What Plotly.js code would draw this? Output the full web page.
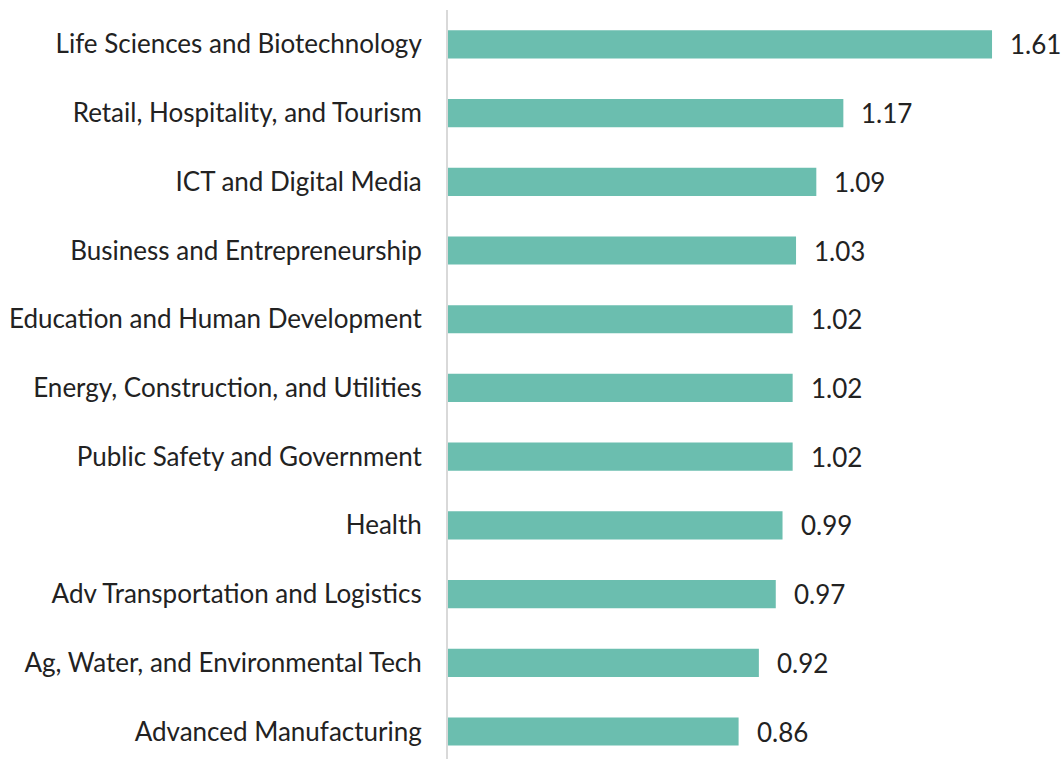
<!DOCTYPE html>
<html><head><meta charset="utf-8">
<script src="https://cdn.plot.ly/plotly-3.0.1.min.js"></script>
<style>html,body{margin:0;padding:0;background:#fff;}#chart{width:1064px;height:759px;}</style>
</head><body><div id="chart"></div>
<script>
const categories = [
  "Advanced Manufacturing",
  "Ag, Water, and Environmental Tech",
  "Adv Transportation and Logistics",
  "Health",
  "Public Safety and Government",
  "Energy, Construction, and Utilities",
  "Education and Human Development",
  "Business and Entrepreneurship",
  "ICT and Digital Media",
  "Retail, Hospitality, and Tourism",
  "Life Sciences and Biotechnology"
];
const values = [0.86, 0.92, 0.97, 0.99, 1.02, 1.02, 1.02, 1.03, 1.09, 1.17, 1.61];
const valueLabels = values.map(v => v.toFixed(2));

const fontFam = "Lato, 'Open Sans', sans-serif";
const textColor = "#222222";

const trace = {
  type: "bar",
  orientation: "h",
  x: values,
  y: categories,
  marker: {color: "#6BBEAF"},
  hoverinfo: "none"
};

const annotations = values.map((v, i) => ({
  x: v, y: categories[i], xref: "x", yref: "y",
  text: valueLabels[i], showarrow: false,
  xanchor: "left", yanchor: "middle", xshift: 16,
  font: {family: fontFam, size: 26, color: textColor}
}));

const layout = {
  width: 1064, height: 759,
  margin: {l: 448, r: 0, t: 10, b: 0, pad: 0},
  paper_bgcolor: "#fff", plot_bgcolor: "#fff",
  showlegend: false,
  bargap: 0.59,
  xaxis: {range: [0, 1.823], visible: false, showgrid: false, zeroline: false, fixedrange: true},
  yaxis: {
    type: "category", categoryorder: "array", categoryarray: categories,
    range: [-0.4, 10.5],
    showline: true, linecolor: "#D9D9D9", linewidth: 2,
    showgrid: false, zeroline: false, ticks: "",
    ticklabelstandoff: 19,
    tickfont: {family: fontFam, size: 26, color: textColor},
    fixedrange: true
  },
  annotations: annotations
};

Plotly.newPlot("chart", [trace], layout, {displayModeBar: false, staticPlot: true});
</script></body></html>
